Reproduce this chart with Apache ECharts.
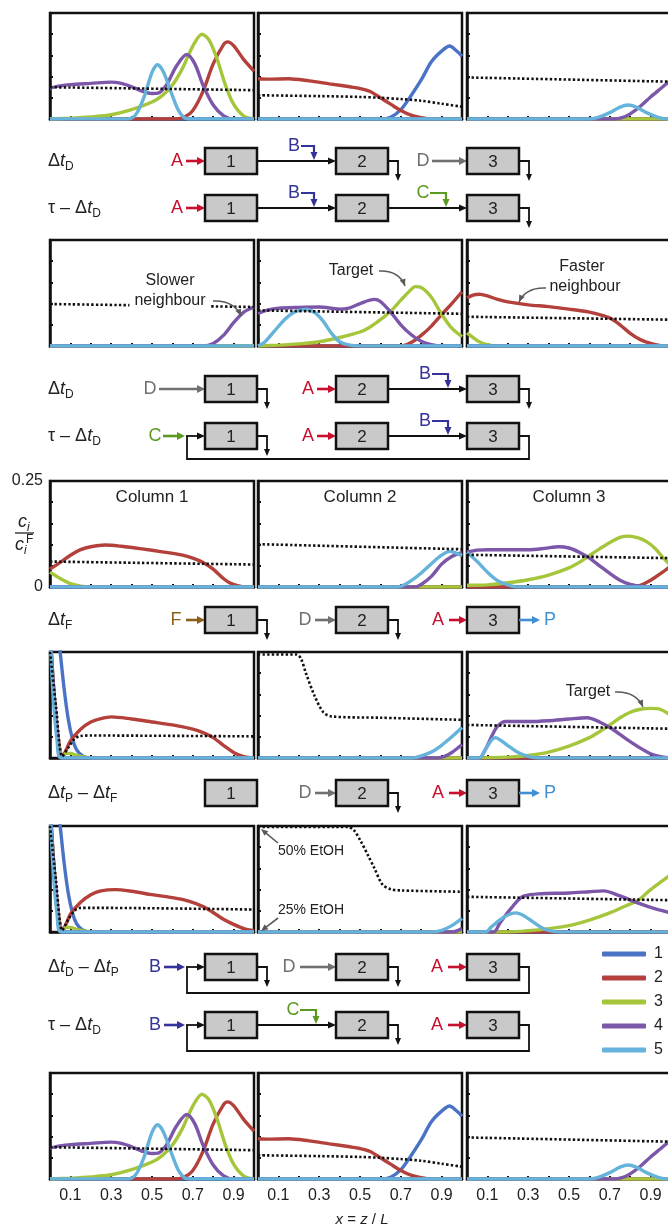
<!DOCTYPE html>
<html><head><meta charset="utf-8">
<script src="https://cdn.jsdelivr.net/npm/echarts@6/dist/echarts.min.js"></script>
<style>html,body{margin:0;padding:0;background:#fff}#c{width:668px;height:1228px}</style>
</head><body><div id="c"></div>
<script>
// ---------------- DATA ----------------
const xTickLabels = ['0.1','0.3','0.5','0.7','0.9'];
const yTickLabels = ['0','0.25'];
const componentNames = ['1','2','3','4','5'];
const columnTitles = ['Column 1','Column 2','Column 3'];
const ZERO = [[0,0],[1,0]];

// Row 1 (same state appears again as row 6)
const r1c1_c2 = [[0,0],[0.6,0],[0.65,0.003],[0.7,0.02],[0.75,0.065],[0.8,0.13],[0.85,0.175],[0.87,0.182],[0.9,0.173],[0.95,0.14],[1,0.113]];
const r1c1_c3 = [[0,0],[0.1,0.002],[0.2,0.005],[0.3,0.01],[0.4,0.022],[0.5,0.04],[0.55,0.055],[0.6,0.08],[0.65,0.12],[0.7,0.172],[0.745,0.2],[0.78,0.186],[0.82,0.14],[0.86,0.08],[0.9,0.035],[0.95,0.007],[1,0]];
const r1c1_c4 = [[0,0.073],[0.05,0.078],[0.1,0.081],[0.2,0.084],[0.3,0.087],[0.35,0.084],[0.4,0.076],[0.45,0.066],[0.5,0.06],[0.53,0.061],[0.57,0.08],[0.62,0.125],[0.67,0.152],[0.71,0.13],[0.75,0.08],[0.8,0.033],[0.85,0.008],[0.9,0],[1,0]];
const r1c1_c5 = [[0,0],[0.38,0],[0.42,0.01],[0.46,0.05],[0.5,0.11],[0.527,0.128],[0.555,0.112],[0.6,0.055],[0.63,0.02],[0.66,0.003],[0.7,0],[1,0]];
const r1c1_dot = [[0,0.075],[1,0.068]];
const r1c2_c1 = [[0,0],[0.6,0],[0.65,0.004],[0.7,0.022],[0.75,0.055],[0.8,0.092],[0.85,0.135],[0.9,0.16],[0.94,0.172],[0.97,0.162],[1,0.148]];
const r1c2_c2 = [[0,0.095],[0.05,0.094],[0.15,0.095],[0.25,0.09],[0.35,0.083],[0.45,0.076],[0.5,0.072],[0.55,0.065],[0.6,0.05],[0.65,0.035],[0.7,0.02],[0.75,0.009],[0.8,0.003],[0.85,0],[1,0]];
const r1c2_dot = [[0,0.056],[0.3,0.054],[0.5,0.052],[0.6,0.05],[0.7,0.047],[0.8,0.043],[0.9,0.036],[1,0.029]];
const r1c3_c4 = [[0,0],[0.72,0],[0.76,0.003],[0.8,0.012],[0.85,0.03],[0.9,0.052],[0.95,0.072],[1,0.092]];
const r1c3_c5 = [[0,0],[0.6,0],[0.65,0.005],[0.7,0.015],[0.75,0.028],[0.79,0.033],[0.83,0.028],[0.88,0.015],[0.93,0.005],[0.98,0],[1,0]];
const r1c3_dot = [[0,0.098],[1,0.088]];

// Row 2
const r2c1_c4 = [[0,0],[0.75,0],[0.8,0.006],[0.85,0.025],[0.9,0.055],[0.95,0.08],[1,0.092]];
const r2c1_dot = [[0,0.099],[1,0.092]];
const r2c2_c2 = [[0,0],[0.7,0],[0.75,0.008],[0.8,0.025],[0.85,0.047],[0.9,0.074],[0.95,0.1],[1,0.128]];
const r2c2_c3 = [[0,0],[0.1,0.002],[0.2,0.005],[0.3,0.01],[0.4,0.02],[0.5,0.033],[0.55,0.045],[0.6,0.062],[0.65,0.082],[0.7,0.108],[0.75,0.133],[0.77,0.14],[0.8,0.138],[0.85,0.115],[0.9,0.075],[0.95,0.042],[1,0.022]];
const r2c2_c4 = [[0,0.077],[0.05,0.085],[0.1,0.089],[0.2,0.091],[0.3,0.092],[0.4,0.087],[0.45,0.09],[0.5,0.1],[0.57,0.11],[0.6,0.105],[0.65,0.08],[0.7,0.05],[0.75,0.027],[0.8,0.011],[0.85,0.003],[0.9,0],[1,0]];
const r2c2_c5 = [[0,0],[0.03,0.008],[0.08,0.035],[0.13,0.062],[0.18,0.08],[0.235,0.086],[0.28,0.078],[0.32,0.058],[0.36,0.03],[0.4,0.01],[0.45,0.002],[0.5,0],[1,0]];
const r2c2_dot = [[0,0.084],[1,0.076]];
const r2c3_c2 = [[0,0.113],[0.03,0.12],[0.06,0.122],[0.1,0.118],[0.15,0.11],[0.2,0.104],[0.3,0.097],[0.4,0.093],[0.5,0.087],[0.6,0.08],[0.65,0.074],[0.7,0.066],[0.75,0.05],[0.8,0.03],[0.85,0.015],[0.9,0.006],[0.95,0.001],[1,0]];
const r2c3_c3 = [[0,0.031],[0.03,0.02],[0.06,0.01],[0.1,0.003],[0.15,0],[1,0]];
const r2c3_dot = [[0,0.069],[1,0.062]];

// Row 3
const r3c1_c2 = [[0,0.042],[0.05,0.058],[0.1,0.075],[0.15,0.088],[0.2,0.095],[0.27,0.099],[0.35,0.096],[0.45,0.09],[0.55,0.083],[0.65,0.075],[0.7,0.068],[0.75,0.058],[0.8,0.042],[0.85,0.02],[0.88,0.01],[0.92,0.003],[0.96,0],[1,0]];
const r3c1_c3 = [[0,0.035],[0.05,0.02],[0.1,0.008],[0.15,0.002],[0.2,0],[1,0]];
const r3c1_dot = [[0,0.06],[1,0.053]];
const r3c2_c4 = [[0,0],[0.77,0],[0.8,0.006],[0.85,0.025],[0.9,0.054],[0.95,0.072],[1,0.081]];
const r3c2_c5 = [[0,0],[0.68,0],[0.72,0.006],[0.76,0.018],[0.8,0.033],[0.85,0.055],[0.9,0.075],[0.94,0.084],[0.97,0.08],[1,0.074]];
const r3c2_dot = [[0,0.101],[1,0.089]];
const r3c3_c2 = [[0,0],[0.8,0],[0.85,0.004],[0.9,0.016],[0.95,0.032],[1,0.05]];
const r3c3_c3 = [[0,0.004],[0.1,0.005],[0.2,0.01],[0.3,0.017],[0.4,0.028],[0.5,0.045],[0.55,0.058],[0.6,0.074],[0.65,0.09],[0.7,0.105],[0.75,0.117],[0.79,0.12],[0.84,0.116],[0.88,0.107],[0.92,0.092],[0.96,0.07],[1,0.05]];
const r3c3_c4 = [[0,0.082],[0.05,0.087],[0.1,0.088],[0.2,0.088],[0.3,0.088],[0.38,0.091],[0.45,0.095],[0.5,0.092],[0.55,0.082],[0.6,0.068],[0.65,0.05],[0.7,0.032],[0.75,0.016],[0.8,0.006],[0.85,0.002],[0.9,0],[1,0]];
const r3c3_c5 = [[0,0.082],[0.05,0.06],[0.1,0.035],[0.15,0.015],[0.2,0.005],[0.25,0],[1,0]];
const r3c3_dot = [[0,0.076],[1,0.068]];

// Row 4
const r4c1_c1 = [[0,0.3],[0.04,0.3],[0.05,0.25],[0.07,0.16],[0.09,0.09],[0.11,0.045],[0.13,0.02],[0.16,0.005],[0.2,0],[1,0]];
const r4c1_c2 = [[0,0.3],[0.02,0.15],[0.045,0.03],[0.06,0.003],[0.08,0.02],[0.1,0.04],[0.15,0.068],[0.2,0.085],[0.25,0.093],[0.3,0.097],[0.4,0.092],[0.5,0.085],[0.6,0.078],[0.7,0.068],[0.75,0.06],[0.8,0.048],[0.85,0.03],[0.9,0.013],[0.95,0.003],[1,0]];
const r4c1_c3 = [[0,0.3],[0.02,0.15],[0.04,0.04],[0.06,0.003],[0.08,0.011],[0.1,0.011],[0.13,0.006],[0.17,0.002],[0.22,0],[1,0]];
const r4c1_c4 = [[0,0.3],[0.02,0.15],[0.04,0.04],[0.06,0],[1,0]];
const r4c1_c5 = [[0,0.3],[0.015,0.15],[0.035,0.04],[0.055,0],[1,0]];
const r4c1_dot = [[0,0.25],[0.03,0.12],[0.06,0.004],[0.09,0.025],[0.12,0.045],[0.15,0.052],[0.2,0.053],[1,0.051]];
const r4c2_c4 = [[0,0],[0.88,0],[0.92,0.005],[0.95,0.013],[0.97,0.02],[1,0.032]];
const r4c2_c5 = [[0,0],[0.75,0],[0.8,0.005],[0.85,0.014],[0.9,0.03],[0.95,0.05],[1,0.072]];
const r4c2_dot = [[0,0.244],[0.19,0.244],[0.21,0.235],[0.235,0.2],[0.277,0.147],[0.32,0.108],[0.36,0.098],[0.6,0.095],[1,0.09]];
const r4c3_c3 = [[0,0],[0.2,0.002],[0.3,0.006],[0.4,0.014],[0.5,0.028],[0.6,0.048],[0.65,0.062],[0.7,0.078],[0.75,0.095],[0.8,0.108],[0.85,0.115],[0.9,0.117],[0.94,0.116],[1,0.1]];
const r4c3_c4 = [[0,0],[0.06,0],[0.09,0.02],[0.12,0.05],[0.15,0.075],[0.19,0.086],[0.3,0.086],[0.4,0.088],[0.5,0.092],[0.59,0.095],[0.65,0.085],[0.71,0.069],[0.78,0.045],[0.84,0.026],[0.9,0.01],[0.95,0.003],[1,0]];
const r4c3_c5 = [[0,0],[0.06,0],[0.09,0.02],[0.12,0.042],[0.14,0.048],[0.17,0.04],[0.21,0.026],[0.25,0.013],[0.3,0.004],[0.35,0],[1,0]];
const r4c3_dot = [[0,0.078],[1,0.069]];

// Row 5
const r5c1_c1 = [[0,0.3],[0.04,0.3],[0.05,0.25],[0.07,0.16],[0.09,0.09],[0.11,0.045],[0.13,0.02],[0.16,0.005],[0.2,0],[1,0]];
const r5c1_c2 = [[0,0.3],[0.02,0.15],[0.045,0.03],[0.06,0.003],[0.08,0.02],[0.1,0.042],[0.15,0.07],[0.2,0.088],[0.25,0.097],[0.32,0.1],[0.4,0.096],[0.5,0.088],[0.6,0.081],[0.68,0.073],[0.75,0.06],[0.8,0.046],[0.85,0.03],[0.9,0.018],[0.95,0.008],[1,0.003]];
const r5c1_c3 = [[0,0.3],[0.02,0.15],[0.04,0.04],[0.06,0.003],[0.08,0.011],[0.1,0.011],[0.13,0.006],[0.17,0.002],[0.22,0],[1,0]];
const r5c1_c4 = [[0,0.3],[0.02,0.15],[0.04,0.04],[0.06,0],[1,0]];
const r5c1_c5 = [[0,0.3],[0.015,0.15],[0.035,0.04],[0.055,0],[1,0]];
const r5c1_dot = [[0,0.25],[0.03,0.12],[0.06,0.004],[0.09,0.03],[0.12,0.05],[0.15,0.057],[0.2,0.057],[1,0.053]];
const r5c2_c4 = [[0,0],[0.95,0],[1,0.008]];
const r5c2_c5 = [[0,0],[0.85,0],[0.9,0.004],[0.95,0.015],[1,0.032]];
const r5c2_dot = [[0,0.248],[0.44,0.248],[0.47,0.24],[0.505,0.213],[0.54,0.18],[0.57,0.151],[0.61,0.112],[0.65,0.101],[0.7,0.098],[1,0.095]];
const r5c3_c3 = [[0,0],[0.2,0],[0.3,0.003],[0.4,0.008],[0.5,0.015],[0.6,0.028],[0.7,0.045],[0.78,0.062],[0.84,0.075],[0.9,0.1],[0.95,0.118],[1,0.135]];
const r5c3_c4 = [[0,0],[0.13,0],[0.16,0.02],[0.19,0.04],[0.22,0.058],[0.25,0.075],[0.28,0.085],[0.35,0.09],[0.5,0.092],[0.6,0.095],[0.67,0.097],[0.75,0.085],[0.84,0.068],[0.92,0.055],[1,0.045]];
const r5c3_c5 = [[0,0],[0.09,0],[0.12,0.012],[0.16,0.028],[0.2,0.04],[0.24,0.045],[0.28,0.038],[0.32,0.025],[0.36,0.012],[0.4,0.004],[0.45,0],[1,0]];
const r5c3_dot = [[0,0.083],[1,0.075]];

// panel table: [component 1..5, modifier]
const panels = [
  [[ZERO,r1c1_c2,r1c1_c3,r1c1_c4,r1c1_c5,r1c1_dot],[r1c2_c1,r1c2_c2,ZERO,ZERO,ZERO,r1c2_dot],[ZERO,ZERO,ZERO,r1c3_c4,r1c3_c5,r1c3_dot]],
  [[ZERO,ZERO,ZERO,r2c1_c4,ZERO,r2c1_dot],[ZERO,r2c2_c2,r2c2_c3,r2c2_c4,r2c2_c5,r2c2_dot],[ZERO,r2c3_c2,r2c3_c3,ZERO,ZERO,r2c3_dot]],
  [[ZERO,r3c1_c2,r3c1_c3,ZERO,ZERO,r3c1_dot],[ZERO,ZERO,ZERO,r3c2_c4,r3c2_c5,r3c2_dot],[ZERO,r3c3_c2,r3c3_c3,r3c3_c4,r3c3_c5,r3c3_dot]],
  [[r4c1_c1,r4c1_c2,r4c1_c3,r4c1_c4,r4c1_c5,r4c1_dot],[ZERO,ZERO,ZERO,r4c2_c4,r4c2_c5,r4c2_dot],[ZERO,ZERO,r4c3_c3,r4c3_c4,r4c3_c5,r4c3_dot]],
  [[r5c1_c1,r5c1_c2,r5c1_c3,r5c1_c4,r5c1_c5,r5c1_dot],[ZERO,ZERO,ZERO,r5c2_c4,r5c2_c5,r5c2_dot],[ZERO,ZERO,r5c3_c3,r5c3_c4,r5c3_c5,r5c3_dot]],
  [[ZERO,r1c1_c2,r1c1_c3,r1c1_c4,r1c1_c5,r1c1_dot],[r1c2_c1,r1c2_c2,ZERO,ZERO,ZERO,r1c2_dot],[ZERO,ZERO,ZERO,r1c3_c4,r1c3_c5,r1c3_dot]]
];

// ---------------- LAYOUT / STYLE ----------------
const rowTops = [13,240,481,652,826,1073];
const colLefts = [50,258,467];
const PW = 204, PH = 106;
const lineColors = ['#4a73c6','#b3403b','#a5c63b','#7c56a8','#65b2da'];
const FF = '"Liberation Sans", Arial, sans-serif';
const INK = '#222';

const grids = [], xAxes = [], yAxes = [], series = [];
let k = 0;
for (let r = 0; r < 6; r++) {
  for (let c = 0; c < 3; c++) {
    grids.push({left: colLefts[c], top: rowTops[r], width: PW, height: PH, show: true,
      outerBoundsMode: 'none', containLabel: false,
      borderColor: '#111', borderWidth: 2.5, backgroundColor: 'transparent'});
    xAxes.push({gridIndex: k, type: 'value', min: 0, max: 1, interval: 0.1,
      axisLine: {show: true, onZero: false, lineStyle: {color: '#111', width: 2.5}},
      axisTick: {show: true, inside: true, length: 3, lineStyle: {color: '#111', width: 2}},
      splitLine: {show: false},
      axisLabel: {show: r === 5, margin: 9, fontSize: 16, fontFamily: FF, color: INK,
        formatter: v => { const s = v.toFixed(1); return xTickLabels.includes(s) ? s : ''; }}});
    yAxes.push({gridIndex: k, type: 'value', min: 0, max: 0.25, interval: 0.05,
      axisLine: {show: true, onZero: false, lineStyle: {color: '#111', width: 2.5}},
      axisTick: {show: true, inside: true, length: 3, lineStyle: {color: '#111', width: 2}},
      splitLine: {show: false},
      axisLabel: {show: r === 2 && c === 0, margin: 7, fontSize: 16, fontFamily: FF, color: INK,
        formatter: v => Math.abs(v) < 1e-9 ? yTickLabels[0] : (Math.abs(v - 0.25) < 1e-9 ? yTickLabels[1] : '')}});
    const p = panels[r][c];
    for (let s = 0; s < 5; s++) {
      series.push({type: 'line', name: componentNames[s], xAxisIndex: k, yAxisIndex: k, data: p[s],
        smooth: 0.3, showSymbol: false, symbol: 'none', silent: true, clip: true, z: 2,
        lineStyle: {width: 3.4, color: lineColors[s]}, itemStyle: {color: lineColors[s]}});
    }
    series.push({type: 'line', name: 'modifier', xAxisIndex: k, yAxisIndex: k, data: p[5],
      smooth: 0.3, showSymbol: false, symbol: 'none', silent: true, clip: true, z: 3,
      lineStyle: {width: 2.6, color: '#111', type: [2.4, 2.2]}, itemStyle: {color: '#111'}});
    k++;
  }
}

// ---------------- GRAPHIC HELPERS ----------------
const G = [];
const mctx = document.createElement('canvas').getContext('2d');
function measure(t, size, italic) { mctx.font = (italic ? 'italic ' : '') + size + 'px ' + FF; return mctx.measureText(t).width; }
function T(x, y, text, o) {
  o = o || {};
  const st = {text, fill: o.color || INK, fontSize: o.size || 16, fontFamily: FF,
    fontStyle: o.italic ? 'italic' : 'normal', align: o.align || 'center', verticalAlign: 'middle'};
  if (o.bg) { st.backgroundColor = o.bg; st.padding = o.pad || [0, 4]; }
  G.push({type: 'text', x, y, z: 100, silent: true, style: st});
}
// parts: [text, kind] kind n normal, i italic, s subscript, si italic subscript, S superscript
function rich(x, y, parts, align, size) {
  size = size || 18;
  const sub = Math.round(size * 0.66);
  const info = parts.map(([t, kind]) => {
    const sz = (kind === 's' || kind === 'si' || kind === 'S') ? sub : size;
    const it = (kind === 'i' || kind === 'si');
    return {t, sz, it, dy: (kind === 's' || kind === 'si') ? size * 0.3 : (kind === 'S' ? -size * 0.32 : 0), w: measure(t, sz, it)};
  });
  const total = info.reduce((a, b) => a + b.w, 0);
  let cx = align === 'center' ? x - total / 2 : x;
  info.forEach(p => { T(cx, y + p.dy, p.t, {size: p.sz, italic: p.it, align: 'left'}); cx += p.w; });
}
function arrow(pts, color, w, hl, hw) {
  w = w || 2; hl = hl || 8; hw = hw || 7;
  const n = pts.length, [x1, y1] = pts[n - 1], [x0, y0] = pts[n - 2];
  const d = Math.hypot(x1 - x0, y1 - y0), ux = (x1 - x0) / d, uy = (y1 - y0) / d;
  const bx = x1 - ux * hl, by = y1 - uy * hl;
  const line = pts.slice(0, n - 1).concat([[bx + ux, by + uy]]);
  G.push({type: 'polyline', z: 100, silent: true, shape: {points: line}, style: {stroke: color, lineWidth: w, fill: null}});
  G.push({type: 'polygon', z: 100, silent: true, shape: {points: [[x1, y1], [bx - uy * hw / 2, by + ux * hw / 2], [bx + uy * hw / 2, by - ux * hw / 2]]}, style: {fill: color}});
}
function curveArrow(p0, cp, p1, color) {
  G.push({type: 'bezierCurve', z: 100, silent: true, shape: {x1: p0[0], y1: p0[1], cpx1: cp[0], cpy1: cp[1], x2: p1[0], y2: p1[1]}, style: {stroke: color, lineWidth: 1.6, fill: null}});
  arrow([cp, p1], color, 0.1, 7, 6);
}
function line(pts, color, w) { G.push({type: 'polyline', z: 100, silent: true, shape: {points: pts}, style: {stroke: color, lineWidth: w || 2, fill: null}}); }

// process diagrams
const BX = [205, 336, 467], BW = 52, BH = 26;
const CA = '#c8102e', CB = '#33339a', CC = '#5b9a21', CD = '#707070', CF = '#8b5e1a', CP = '#3f8fd2';
function box(i, cy) {
  G.push({type: 'rect', z: 100, silent: true, shape: {x: BX[i], y: cy - BH / 2, width: BW, height: BH}, style: {fill: '#c9c9c9', stroke: '#111', lineWidth: 2.5}});
  T(BX[i] + BW / 2, cy + 1, String(i + 1), {size: 17});
}
function outlet(i, cy) { const x = BX[i] + BW + 10; arrow([[BX[i] + BW, cy], [x, cy], [x, cy + 20]], '#111', 1.8, 7, 6); }
function feed(letter, color, tx, x0, x1, cy) { T(tx, cy, letter, {color, size: 18}); arrow([[x0, cy], [x1, cy]], color, 2.6, 8, 8); }
function connect(i, j, cy) { arrow([[BX[i] + BW, cy], [BX[j], cy]], '#111', 1.8, 8, 7); }
function bent(letter, color, tx, xb, cy) { T(tx, cy - 15, letter, {color, size: 18}); arrow([[tx + 7, cy - 15], [xb, cy - 15], [xb, cy - 1]], color, 2.2, 8, 7); }
function loop(cy, yb) { line([[BX[2] + BW, cy], [529, cy], [529, yb], [187, yb], [187, cy]], '#111', 1.8); arrow([[186, cy], [BX[0], cy]], '#111', 1.8, 8, 7); }
function product(cy) { arrow([[BX[2] + BW, cy], [540, cy]], CP, 2.6, 8, 8); T(550, cy, 'P', {color: CP, size: 18}); }
const dtD = [['Δ','n'],['t','i'],['D','s']];
const tauD = [['τ – ','n'],['Δ','n'],['t','i'],['D','s']];

// D1
let cy = 161;
rich(48, cy, dtD);
feed('A', CA, 177, 186, BX[0], cy); box(0, cy); connect(0, 1, cy); bent('B', CB, 294, 314, cy);
box(1, cy); outlet(1, cy); feed('D', CD, 423, 432, BX[2], cy); box(2, cy); outlet(2, cy);
// D2
cy = 208;
rich(48, cy, tauD);
feed('A', CA, 177, 186, BX[0], cy); box(0, cy); connect(0, 1, cy); bent('B', CB, 294, 314, cy);
box(1, cy); connect(1, 2, cy); bent('C', CC, 423, 446, cy); box(2, cy); outlet(2, cy);
// D3
cy = 389;
rich(48, cy, dtD);
feed('D', CD, 150, 159, BX[0], cy); box(0, cy); outlet(0, cy);
feed('A', CA, 308, 317, BX[1], cy); box(1, cy); connect(1, 2, cy); bent('B', CB, 425, 448, cy); box(2, cy); outlet(2, cy);
// D4
cy = 436;
rich(48, cy, tauD);
loop(cy, 459); feed('C', CC, 155, 163, 185, cy); box(0, cy); outlet(0, cy);
feed('A', CA, 308, 317, BX[1], cy); box(1, cy); connect(1, 2, cy); bent('B', CB, 425, 448, cy); box(2, cy);
// D5
cy = 620;
rich(48, cy, [['Δ','n'],['t','i'],['F','s']]);
feed('F', CF, 176, 186, BX[0], cy); box(0, cy); outlet(0, cy);
feed('D', CD, 305, 315, BX[1], cy); box(1, cy); outlet(1, cy);
feed('A', CA, 438, 449, BX[2], cy); box(2, cy); product(cy);
// D6
cy = 793;
rich(48, cy, [['Δ','n'],['t','i'],['P','s'],[' – ','n'],['Δ','n'],['t','i'],['F','s']]);
box(0, cy);
feed('D', CD, 305, 315, BX[1], cy); box(1, cy); outlet(1, cy);
feed('A', CA, 438, 449, BX[2], cy); box(2, cy); product(cy);
// D7
cy = 967;
rich(48, cy, [['Δ','n'],['t','i'],['D','s'],[' – ','n'],['Δ','n'],['t','i'],['P','s']]);
loop(cy, 993); feed('B', CB, 155, 164, 185, cy); box(0, cy); outlet(0, cy);
feed('D', CD, 289, 300, BX[1], cy); box(1, cy); outlet(1, cy);
feed('A', CA, 437, 448, BX[2], cy); box(2, cy);
// D8
cy = 1025;
rich(48, cy, tauD);
loop(cy, 1051); feed('B', CB, 155, 164, 185, cy); box(0, cy); connect(0, 1, cy); bent('C', CC, 293, 316, cy);
box(1, cy); outlet(1, cy);
feed('A', CA, 437, 448, BX[2], cy); box(2, cy);

// panel annotations
const GREY = '#5a5a5a';
T(170, 281, 'Slower', {size: 16});
T(170, 301, 'neighbour', {size: 16, bg: '#fff', pad: [0, 5]});
curveArrow([213, 301], [234, 300], [241, 316], GREY);
T(351, 271, 'Target', {size: 16});
curveArrow([379, 271], [399, 270], [405, 286], GREY);
T(582, 267, 'Faster', {size: 16});
T(585, 287, 'neighbour', {size: 16});
curveArrow([546, 288], [526, 287], [519, 302], GREY);
T(588, 692, 'Target', {size: 16});
curveArrow([615, 692], [636, 691], [643, 707], GREY);
T(311, 851, '50% EtOH', {size: 14});
arrow([[278, 843], [261, 829]], GREY, 1.6, 7, 6);
T(311, 910, '25% EtOH', {size: 14});
arrow([[278, 918], [261, 931]], GREY, 1.6, 7, 6);
columnTitles.forEach((t, i) => T(colLefts[i] + PW / 2, 497, t, {size: 17}));

// y-axis title c_i / c_i^F
T(18, 522, 'c', {size: 18, italic: true, align: 'left'});
T(27, 528, 'i', {size: 12, italic: true, align: 'left'});
line([[15, 533], [34, 533]], '#222', 1.3);
T(15, 545, 'c', {size: 18, italic: true, align: 'left'});
T(24, 551, 'i', {size: 12, italic: true, align: 'left'});
T(26, 540, 'F', {size: 12, align: 'left'});

// x-axis title
rich(362, 1220, [['x','i'],[' = ','n'],['z','i'],[' / ','n'],['L','i']], 'center', 15);

const option = {
  animation: false,
  backgroundColor: '#fff',
  grid: grids, xAxis: xAxes, yAxis: yAxes, series,
  legend: {data: componentNames, orient: 'vertical', left: 602, top: 946, padding: 0, itemWidth: 44, itemHeight: 5,
    itemGap: 8, icon: 'roundRect', selectedMode: false,
    textStyle: {fontSize: 16, fontFamily: FF, color: INK, padding: [0, 0, 0, 3]}},
  graphic: G
};
const chart = echarts.init(document.getElementById('c'), null, {renderer: 'canvas'});
chart.setOption(option);
</script></body></html>
